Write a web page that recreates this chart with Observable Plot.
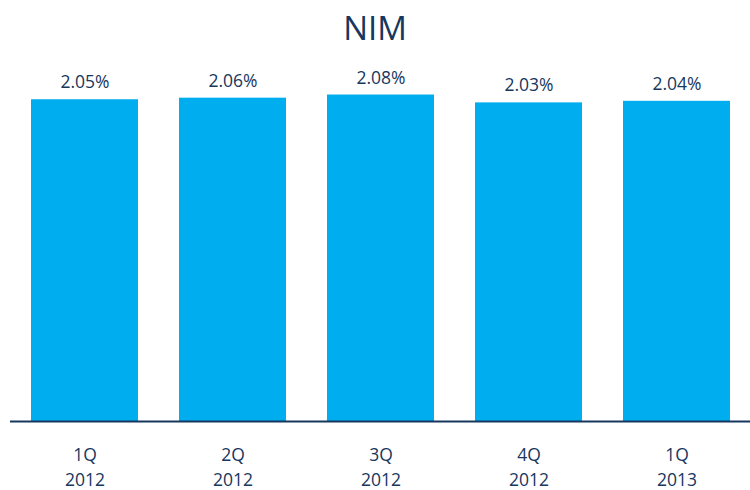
<!DOCTYPE html>
<html>
<head>
<meta charset="utf-8">
<script src="https://cdn.jsdelivr.net/npm/d3@7"></script>
<script src="https://cdn.jsdelivr.net/npm/@observablehq/plot@0.6"></script>
<style>
  body { margin: 0; background: #fff; font-family: "Open Sans", sans-serif; }
  #title { width: 750px; height: 56px; line-height: 56px; text-align: center; font-size: 33px; color: #17375E; }
  svg { overflow: visible; }
</style>
</head>
<body>
<div id="title">NIM</div>
<div id="chart"></div>
<script>
const quarters = ["1Q", "2Q", "3Q", "4Q", "1Q"];
const years = ["2012", "2012", "2012", "2012", "2013"];
const nim = [2.05, 2.06, 2.08, 2.03, 2.04];

const labels = quarters.map((q, i) => q + "\n" + years[i]);
const data = labels.map((l, i) => ({label: l, value: nim[i]}));

const navy = "#17375E";
const blue = "#00AEEF";

const chart = Plot.plot({
  width: 750,
  height: 434,
  marginLeft: 10,
  marginRight: 0,
  marginTop: 4,
  marginBottom: 69,
  style: {fontFamily: "Open Sans, sans-serif", background: "#fff", overflow: "visible"},
  x: {domain: labels, paddingInner: 0.28, paddingOuter: 0.14, axis: null},
  y: {domain: [0, 2.3], axis: null},
  marks: [
    Plot.barY(data, {x: "label", y: "value", fill: blue}),
    Plot.ruleY([0], {stroke: navy, strokeWidth: 2}),
    Plot.text(data, {x: "label", y: "value", text: d => d.value.toFixed(2) + "%", dy: -17, fontSize: 17.5, fill: navy}),
    Plot.text(data, {x: "label", text: "label", frameAnchor: "bottom", lineAnchor: "top", dy: 22, fontSize: 17.5, lineHeight: 1.42, fill: navy})
  ]
});
document.getElementById("chart").appendChild(chart);
</script>
</body>
</html>
